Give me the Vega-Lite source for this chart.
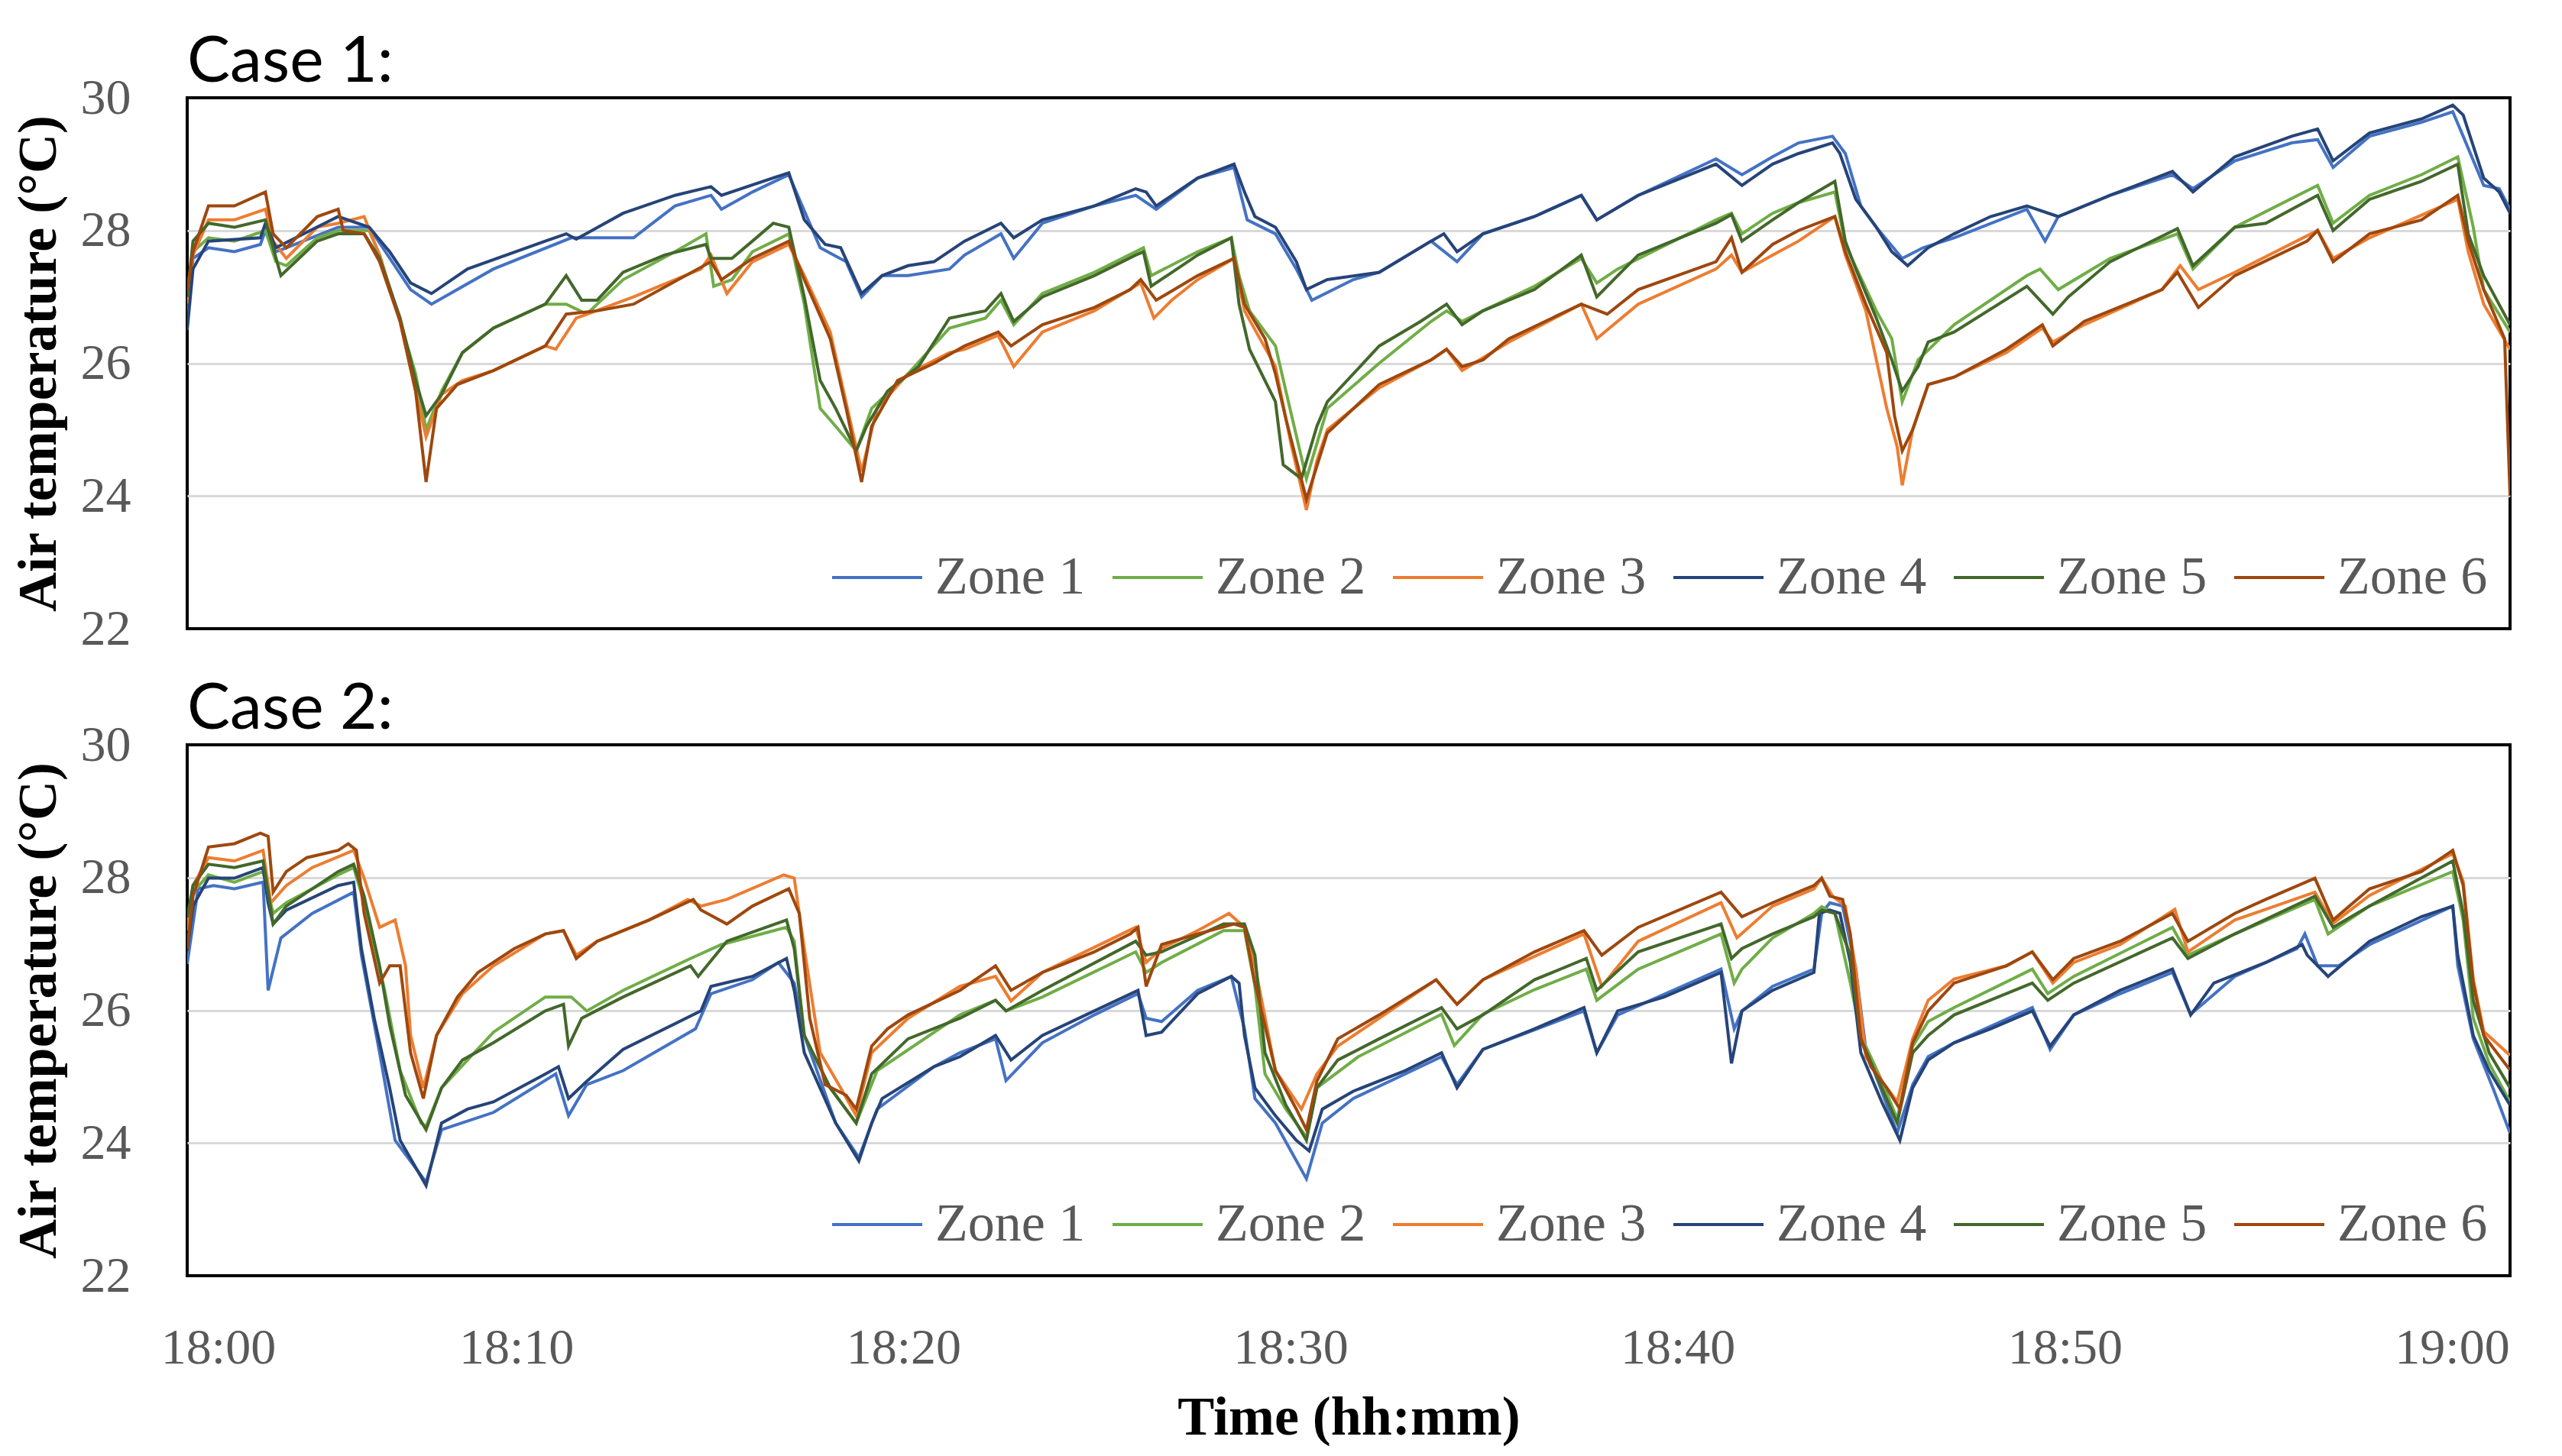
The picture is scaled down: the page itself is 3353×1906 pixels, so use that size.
{
"$schema": "https://vega.github.io/schema/vega-lite/v6.json",
"background": "white",
"padding": {"left": 12, "top": 38, "right": 10, "bottom": 4},
"config": {"view": {"stroke": "black", "strokeWidth": 4}, "font": "Liberation Serif"},
"datasets": {"d": [
{"c":1,"z":"Zone 1","t":1.5,"v":26.6},{"c":1,"z":"Zone 1","t":1.65,"v":27.58},{"c":1,"z":"Zone 1","t":2.05,"v":27.74},{"c":1,"z":"Zone 1","t":2.72,"v":27.68},{"c":1,"z":"Zone 1","t":3.39,"v":27.79},{"c":1,"z":"Zone 1","t":3.52,"v":28.0},{"c":1,"z":"Zone 1","t":3.79,"v":27.68},{"c":1,"z":"Zone 1","t":4.06,"v":27.74},{"c":1,"z":"Zone 1","t":5.4,"v":28.05},{"c":1,"z":"Zone 1","t":6.2,"v":28.05},{"c":1,"z":"Zone 1","t":7.27,"v":27.11},{"c":1,"z":"Zone 1","t":7.81,"v":26.89},{"c":1,"z":"Zone 1","t":9.41,"v":27.42},{"c":1,"z":"Zone 1","t":11.42,"v":27.89},{"c":1,"z":"Zone 1","t":13.03,"v":27.89},{"c":1,"z":"Zone 1","t":14.1,"v":28.37},{"c":1,"z":"Zone 1","t":15.03,"v":28.53},{"c":1,"z":"Zone 1","t":15.3,"v":28.32},{"c":1,"z":"Zone 1","t":16.1,"v":28.58},{"c":1,"z":"Zone 1","t":17.04,"v":28.84},{"c":1,"z":"Zone 1","t":17.85,"v":27.74},{"c":1,"z":"Zone 1","t":18.52,"v":27.53},{"c":1,"z":"Zone 1","t":18.92,"v":27.0},{"c":1,"z":"Zone 1","t":19.45,"v":27.32},{"c":1,"z":"Zone 1","t":20.12,"v":27.32},{"c":1,"z":"Zone 1","t":21.19,"v":27.42},{"c":1,"z":"Zone 1","t":21.58,"v":27.63},{"c":1,"z":"Zone 1","t":22.52,"v":27.95},{"c":1,"z":"Zone 1","t":22.85,"v":27.58},{"c":1,"z":"Zone 1","t":23.59,"v":28.11},{"c":1,"z":"Zone 1","t":24.93,"v":28.37},{"c":1,"z":"Zone 1","t":26.0,"v":28.53},{"c":1,"z":"Zone 1","t":26.53,"v":28.32},{"c":1,"z":"Zone 1","t":27.6,"v":28.79},{"c":1,"z":"Zone 1","t":28.54,"v":28.95},{"c":1,"z":"Zone 1","t":28.88,"v":28.16},{"c":1,"z":"Zone 1","t":29.61,"v":27.95},{"c":1,"z":"Zone 1","t":30.15,"v":27.42},{"c":1,"z":"Zone 1","t":30.55,"v":26.95},{"c":1,"z":"Zone 1","t":31.62,"v":27.26},{"c":1,"z":"Zone 1","t":32.29,"v":27.37},{"c":1,"z":"Zone 1","t":33.63,"v":27.84},{"c":1,"z":"Zone 1","t":34.3,"v":27.53},{"c":1,"z":"Zone 1","t":34.97,"v":27.95},{"c":1,"z":"Zone 1","t":36.3,"v":28.21},{"c":1,"z":"Zone 1","t":37.51,"v":28.53},{"c":1,"z":"Zone 1","t":37.91,"v":28.16},{"c":1,"z":"Zone 1","t":38.98,"v":28.53},{"c":1,"z":"Zone 1","t":40.99,"v":29.08},{"c":1,"z":"Zone 1","t":41.66,"v":28.84},{"c":1,"z":"Zone 1","t":42.45,"v":29.11},{"c":1,"z":"Zone 1","t":43.12,"v":29.32},{"c":1,"z":"Zone 1","t":44.0,"v":29.42},{"c":1,"z":"Zone 1","t":44.33,"v":29.16},{"c":1,"z":"Zone 1","t":44.73,"v":28.37},{"c":1,"z":"Zone 1","t":45.13,"v":28.05},{"c":1,"z":"Zone 1","t":45.8,"v":27.58},{"c":1,"z":"Zone 1","t":46.34,"v":27.74},{"c":1,"z":"Zone 1","t":47.14,"v":27.89},{"c":1,"z":"Zone 1","t":49.02,"v":28.32},{"c":1,"z":"Zone 1","t":49.49,"v":27.84},{"c":1,"z":"Zone 1","t":49.83,"v":28.21},{"c":1,"z":"Zone 1","t":51.17,"v":28.53},{"c":1,"z":"Zone 1","t":52.78,"v":28.84},{"c":1,"z":"Zone 1","t":53.31,"v":28.63},{"c":1,"z":"Zone 1","t":54.39,"v":29.05},{"c":1,"z":"Zone 1","t":55.86,"v":29.32},{"c":1,"z":"Zone 1","t":56.53,"v":29.37},{"c":1,"z":"Zone 1","t":56.93,"v":28.95},{"c":1,"z":"Zone 1","t":57.87,"v":29.42},{"c":1,"z":"Zone 1","t":59.21,"v":29.63},{"c":1,"z":"Zone 1","t":60.02,"v":29.79},{"c":1,"z":"Zone 1","t":60.29,"v":29.42},{"c":1,"z":"Zone 1","t":60.82,"v":28.68},{"c":1,"z":"Zone 1","t":61.22,"v":28.63},{"c":1,"z":"Zone 1","t":61.5,"v":28.32},
{"c":1,"z":"Zone 2","t":1.5,"v":26.9},{"c":1,"z":"Zone 2","t":1.65,"v":27.68},{"c":1,"z":"Zone 2","t":2.05,"v":27.89},{"c":1,"z":"Zone 2","t":2.72,"v":27.84},{"c":1,"z":"Zone 2","t":3.52,"v":28.0},{"c":1,"z":"Zone 2","t":3.79,"v":27.53},{"c":1,"z":"Zone 2","t":4.06,"v":27.47},{"c":1,"z":"Zone 2","t":4.86,"v":27.89},{"c":1,"z":"Zone 2","t":5.4,"v":28.0},{"c":1,"z":"Zone 2","t":6.2,"v":28.0},{"c":1,"z":"Zone 2","t":6.47,"v":27.63},{"c":1,"z":"Zone 2","t":7.0,"v":26.63},{"c":1,"z":"Zone 2","t":7.4,"v":25.84},{"c":1,"z":"Zone 2","t":7.67,"v":25.0},{"c":1,"z":"Zone 2","t":8.07,"v":25.58},{"c":1,"z":"Zone 2","t":8.61,"v":26.16},{"c":1,"z":"Zone 2","t":9.41,"v":26.53},{"c":1,"z":"Zone 2","t":10.75,"v":26.89},{"c":1,"z":"Zone 2","t":11.29,"v":26.89},{"c":1,"z":"Zone 2","t":11.82,"v":26.74},{"c":1,"z":"Zone 2","t":12.76,"v":27.26},{"c":1,"z":"Zone 2","t":14.1,"v":27.68},{"c":1,"z":"Zone 2","t":14.9,"v":27.95},{"c":1,"z":"Zone 2","t":15.1,"v":27.16},{"c":1,"z":"Zone 2","t":15.57,"v":27.26},{"c":1,"z":"Zone 2","t":16.1,"v":27.68},{"c":1,"z":"Zone 2","t":17.04,"v":27.95},{"c":1,"z":"Zone 2","t":17.44,"v":26.89},{"c":1,"z":"Zone 2","t":17.85,"v":25.32},{"c":1,"z":"Zone 2","t":18.25,"v":25.05},{"c":1,"z":"Zone 2","t":18.78,"v":24.68},{"c":1,"z":"Zone 2","t":19.18,"v":25.32},{"c":1,"z":"Zone 2","t":20.12,"v":25.84},{"c":1,"z":"Zone 2","t":21.19,"v":26.53},{"c":1,"z":"Zone 2","t":22.12,"v":26.68},{"c":1,"z":"Zone 2","t":22.52,"v":26.95},{"c":1,"z":"Zone 2","t":22.85,"v":26.58},{"c":1,"z":"Zone 2","t":23.59,"v":27.05},{"c":1,"z":"Zone 2","t":24.93,"v":27.37},{"c":1,"z":"Zone 2","t":26.2,"v":27.74},{"c":1,"z":"Zone 2","t":26.4,"v":27.32},{"c":1,"z":"Zone 2","t":27.6,"v":27.68},{"c":1,"z":"Zone 2","t":28.47,"v":27.89},{"c":1,"z":"Zone 2","t":28.67,"v":27.32},{"c":1,"z":"Zone 2","t":28.94,"v":26.79},{"c":1,"z":"Zone 2","t":29.61,"v":26.26},{"c":1,"z":"Zone 2","t":29.88,"v":25.58},{"c":1,"z":"Zone 2","t":30.41,"v":24.26},{"c":1,"z":"Zone 2","t":30.95,"v":25.32},{"c":1,"z":"Zone 2","t":32.29,"v":26.0},{"c":1,"z":"Zone 2","t":33.63,"v":26.63},{"c":1,"z":"Zone 2","t":34.03,"v":26.79},{"c":1,"z":"Zone 2","t":34.43,"v":26.63},{"c":1,"z":"Zone 2","t":34.97,"v":26.79},{"c":1,"z":"Zone 2","t":36.3,"v":27.16},{"c":1,"z":"Zone 2","t":37.51,"v":27.58},{"c":1,"z":"Zone 2","t":37.91,"v":27.21},{"c":1,"z":"Zone 2","t":38.45,"v":27.42},{"c":1,"z":"Zone 2","t":40.99,"v":28.16},{"c":1,"z":"Zone 2","t":41.39,"v":28.26},{"c":1,"z":"Zone 2","t":41.66,"v":27.95},{"c":1,"z":"Zone 2","t":42.45,"v":28.26},{"c":1,"z":"Zone 2","t":43.12,"v":28.42},{"c":1,"z":"Zone 2","t":44.06,"v":28.58},{"c":1,"z":"Zone 2","t":44.33,"v":27.79},{"c":1,"z":"Zone 2","t":45.13,"v":26.79},{"c":1,"z":"Zone 2","t":45.53,"v":26.37},{"c":1,"z":"Zone 2","t":45.8,"v":25.42},{"c":1,"z":"Zone 2","t":46.21,"v":26.05},{"c":1,"z":"Zone 2","t":47.14,"v":26.58},{"c":1,"z":"Zone 2","t":49.02,"v":27.32},{"c":1,"z":"Zone 2","t":49.36,"v":27.42},{"c":1,"z":"Zone 2","t":49.83,"v":27.11},{"c":1,"z":"Zone 2","t":51.17,"v":27.58},{"c":1,"z":"Zone 2","t":52.91,"v":27.95},{"c":1,"z":"Zone 2","t":53.31,"v":27.42},{"c":1,"z":"Zone 2","t":54.39,"v":28.05},{"c":1,"z":"Zone 2","t":56.53,"v":28.68},{"c":1,"z":"Zone 2","t":56.93,"v":28.11},{"c":1,"z":"Zone 2","t":57.87,"v":28.53},{"c":1,"z":"Zone 2","t":59.21,"v":28.84},{"c":1,"z":"Zone 2","t":60.15,"v":29.11},{"c":1,"z":"Zone 2","t":60.55,"v":28.05},{"c":1,"z":"Zone 2","t":60.82,"v":27.11},{"c":1,"z":"Zone 2","t":61.5,"v":26.47},
{"c":1,"z":"Zone 3","t":1.5,"v":26.9},{"c":1,"z":"Zone 3","t":1.65,"v":27.63},{"c":1,"z":"Zone 3","t":2.05,"v":28.16},{"c":1,"z":"Zone 3","t":2.72,"v":28.16},{"c":1,"z":"Zone 3","t":3.52,"v":28.32},{"c":1,"z":"Zone 3","t":3.72,"v":27.84},{"c":1,"z":"Zone 3","t":4.06,"v":27.58},{"c":1,"z":"Zone 3","t":4.86,"v":28.05},{"c":1,"z":"Zone 3","t":5.4,"v":28.11},{"c":1,"z":"Zone 3","t":6.07,"v":28.21},{"c":1,"z":"Zone 3","t":6.47,"v":27.63},{"c":1,"z":"Zone 3","t":7.0,"v":26.63},{"c":1,"z":"Zone 3","t":7.4,"v":25.58},{"c":1,"z":"Zone 3","t":7.67,"v":24.89},{"c":1,"z":"Zone 3","t":8.07,"v":25.53},{"c":1,"z":"Zone 3","t":8.61,"v":25.74},{"c":1,"z":"Zone 3","t":9.41,"v":25.89},{"c":1,"z":"Zone 3","t":10.75,"v":26.26},{"c":1,"z":"Zone 3","t":11.02,"v":26.21},{"c":1,"z":"Zone 3","t":11.55,"v":26.68},{"c":1,"z":"Zone 3","t":13.03,"v":27.0},{"c":1,"z":"Zone 3","t":14.77,"v":27.42},{"c":1,"z":"Zone 3","t":15.03,"v":27.63},{"c":1,"z":"Zone 3","t":15.44,"v":27.05},{"c":1,"z":"Zone 3","t":16.1,"v":27.53},{"c":1,"z":"Zone 3","t":17.04,"v":27.79},{"c":1,"z":"Zone 3","t":17.44,"v":27.32},{"c":1,"z":"Zone 3","t":18.11,"v":26.47},{"c":1,"z":"Zone 3","t":18.92,"v":24.37},{"c":1,"z":"Zone 3","t":19.32,"v":25.32},{"c":1,"z":"Zone 3","t":20.12,"v":25.84},{"c":1,"z":"Zone 3","t":21.19,"v":26.16},{"c":1,"z":"Zone 3","t":21.58,"v":26.21},{"c":1,"z":"Zone 3","t":22.45,"v":26.42},{"c":1,"z":"Zone 3","t":22.85,"v":25.95},{"c":1,"z":"Zone 3","t":23.59,"v":26.47},{"c":1,"z":"Zone 3","t":24.93,"v":26.79},{"c":1,"z":"Zone 3","t":26.13,"v":27.21},{"c":1,"z":"Zone 3","t":26.47,"v":26.68},{"c":1,"z":"Zone 3","t":26.93,"v":26.95},{"c":1,"z":"Zone 3","t":27.6,"v":27.26},{"c":1,"z":"Zone 3","t":28.54,"v":27.58},{"c":1,"z":"Zone 3","t":28.81,"v":26.79},{"c":1,"z":"Zone 3","t":29.61,"v":25.95},{"c":1,"z":"Zone 3","t":30.01,"v":24.79},{"c":1,"z":"Zone 3","t":30.41,"v":23.79},{"c":1,"z":"Zone 3","t":30.68,"v":24.53},{"c":1,"z":"Zone 3","t":30.95,"v":25.0},{"c":1,"z":"Zone 3","t":32.29,"v":25.63},{"c":1,"z":"Zone 3","t":33.63,"v":26.05},{"c":1,"z":"Zone 3","t":34.03,"v":26.21},{"c":1,"z":"Zone 3","t":34.43,"v":25.89},{"c":1,"z":"Zone 3","t":35.64,"v":26.32},{"c":1,"z":"Zone 3","t":37.51,"v":26.89},{"c":1,"z":"Zone 3","t":37.91,"v":26.37},{"c":1,"z":"Zone 3","t":38.98,"v":26.89},{"c":1,"z":"Zone 3","t":40.99,"v":27.42},{"c":1,"z":"Zone 3","t":41.39,"v":27.63},{"c":1,"z":"Zone 3","t":41.66,"v":27.37},{"c":1,"z":"Zone 3","t":42.45,"v":27.63},{"c":1,"z":"Zone 3","t":43.12,"v":27.84},{"c":1,"z":"Zone 3","t":44.06,"v":28.21},{"c":1,"z":"Zone 3","t":44.33,"v":27.63},{"c":1,"z":"Zone 3","t":44.86,"v":26.79},{"c":1,"z":"Zone 3","t":45.4,"v":25.32},{"c":1,"z":"Zone 3","t":45.67,"v":24.74},{"c":1,"z":"Zone 3","t":45.8,"v":24.16},{"c":1,"z":"Zone 3","t":46.07,"v":25.0},{"c":1,"z":"Zone 3","t":46.47,"v":25.68},{"c":1,"z":"Zone 3","t":47.14,"v":25.79},{"c":1,"z":"Zone 3","t":48.49,"v":26.16},{"c":1,"z":"Zone 3","t":49.42,"v":26.53},{"c":1,"z":"Zone 3","t":49.69,"v":26.32},{"c":1,"z":"Zone 3","t":50.5,"v":26.58},{"c":1,"z":"Zone 3","t":52.51,"v":27.11},{"c":1,"z":"Zone 3","t":52.98,"v":27.47},{"c":1,"z":"Zone 3","t":53.45,"v":27.11},{"c":1,"z":"Zone 3","t":54.39,"v":27.37},{"c":1,"z":"Zone 3","t":56.53,"v":28.0},{"c":1,"z":"Zone 3","t":56.93,"v":27.58},{"c":1,"z":"Zone 3","t":57.87,"v":27.89},{"c":1,"z":"Zone 3","t":60.15,"v":28.47},{"c":1,"z":"Zone 3","t":60.42,"v":27.68},{"c":1,"z":"Zone 3","t":60.82,"v":26.89},{"c":1,"z":"Zone 3","t":61.5,"v":26.21},
{"c":1,"z":"Zone 4","t":1.5,"v":26.5},{"c":1,"z":"Zone 4","t":1.65,"v":27.42},{"c":1,"z":"Zone 4","t":2.05,"v":27.84},{"c":1,"z":"Zone 4","t":3.39,"v":27.89},{"c":1,"z":"Zone 4","t":3.52,"v":28.11},{"c":1,"z":"Zone 4","t":3.79,"v":27.74},{"c":1,"z":"Zone 4","t":5.4,"v":28.21},{"c":1,"z":"Zone 4","t":6.2,"v":28.05},{"c":1,"z":"Zone 4","t":6.73,"v":27.68},{"c":1,"z":"Zone 4","t":7.27,"v":27.21},{"c":1,"z":"Zone 4","t":7.81,"v":27.05},{"c":1,"z":"Zone 4","t":8.74,"v":27.42},{"c":1,"z":"Zone 4","t":10.75,"v":27.84},{"c":1,"z":"Zone 4","t":11.29,"v":27.95},{"c":1,"z":"Zone 4","t":11.55,"v":27.87},{"c":1,"z":"Zone 4","t":12.76,"v":28.26},{"c":1,"z":"Zone 4","t":14.1,"v":28.53},{"c":1,"z":"Zone 4","t":15.03,"v":28.66},{"c":1,"z":"Zone 4","t":15.3,"v":28.53},{"c":1,"z":"Zone 4","t":17.04,"v":28.87},{"c":1,"z":"Zone 4","t":17.44,"v":28.16},{"c":1,"z":"Zone 4","t":17.98,"v":27.79},{"c":1,"z":"Zone 4","t":18.38,"v":27.74},{"c":1,"z":"Zone 4","t":18.92,"v":27.05},{"c":1,"z":"Zone 4","t":19.45,"v":27.32},{"c":1,"z":"Zone 4","t":20.12,"v":27.47},{"c":1,"z":"Zone 4","t":20.79,"v":27.53},{"c":1,"z":"Zone 4","t":21.58,"v":27.84},{"c":1,"z":"Zone 4","t":22.52,"v":28.11},{"c":1,"z":"Zone 4","t":22.85,"v":27.89},{"c":1,"z":"Zone 4","t":23.59,"v":28.16},{"c":1,"z":"Zone 4","t":24.93,"v":28.37},{"c":1,"z":"Zone 4","t":26.0,"v":28.63},{"c":1,"z":"Zone 4","t":26.27,"v":28.58},{"c":1,"z":"Zone 4","t":26.53,"v":28.37},{"c":1,"z":"Zone 4","t":27.6,"v":28.79},{"c":1,"z":"Zone 4","t":28.54,"v":29.0},{"c":1,"z":"Zone 4","t":28.81,"v":28.58},{"c":1,"z":"Zone 4","t":29.08,"v":28.21},{"c":1,"z":"Zone 4","t":29.61,"v":28.05},{"c":1,"z":"Zone 4","t":30.15,"v":27.53},{"c":1,"z":"Zone 4","t":30.41,"v":27.11},{"c":1,"z":"Zone 4","t":30.95,"v":27.26},{"c":1,"z":"Zone 4","t":32.29,"v":27.37},{"c":1,"z":"Zone 4","t":33.63,"v":27.84},{"c":1,"z":"Zone 4","t":33.96,"v":27.95},{"c":1,"z":"Zone 4","t":34.3,"v":27.68},{"c":1,"z":"Zone 4","t":34.97,"v":27.95},{"c":1,"z":"Zone 4","t":36.3,"v":28.21},{"c":1,"z":"Zone 4","t":37.51,"v":28.53},{"c":1,"z":"Zone 4","t":37.91,"v":28.16},{"c":1,"z":"Zone 4","t":38.98,"v":28.53},{"c":1,"z":"Zone 4","t":40.99,"v":29.0},{"c":1,"z":"Zone 4","t":41.66,"v":28.68},{"c":1,"z":"Zone 4","t":42.45,"v":29.0},{"c":1,"z":"Zone 4","t":43.12,"v":29.16},{"c":1,"z":"Zone 4","t":44.0,"v":29.32},{"c":1,"z":"Zone 4","t":44.19,"v":29.16},{"c":1,"z":"Zone 4","t":44.6,"v":28.47},{"c":1,"z":"Zone 4","t":45.13,"v":28.05},{"c":1,"z":"Zone 4","t":45.53,"v":27.68},{"c":1,"z":"Zone 4","t":45.94,"v":27.47},{"c":1,"z":"Zone 4","t":46.47,"v":27.74},{"c":1,"z":"Zone 4","t":47.14,"v":27.95},{"c":1,"z":"Zone 4","t":48.08,"v":28.21},{"c":1,"z":"Zone 4","t":49.02,"v":28.37},{"c":1,"z":"Zone 4","t":49.83,"v":28.21},{"c":1,"z":"Zone 4","t":51.17,"v":28.53},{"c":1,"z":"Zone 4","t":52.78,"v":28.89},{"c":1,"z":"Zone 4","t":53.31,"v":28.58},{"c":1,"z":"Zone 4","t":54.39,"v":29.11},{"c":1,"z":"Zone 4","t":55.86,"v":29.42},{"c":1,"z":"Zone 4","t":56.53,"v":29.53},{"c":1,"z":"Zone 4","t":56.93,"v":29.05},{"c":1,"z":"Zone 4","t":57.87,"v":29.47},{"c":1,"z":"Zone 4","t":59.21,"v":29.68},{"c":1,"z":"Zone 4","t":60.02,"v":29.89},{"c":1,"z":"Zone 4","t":60.29,"v":29.74},{"c":1,"z":"Zone 4","t":60.82,"v":28.79},{"c":1,"z":"Zone 4","t":61.22,"v":28.58},{"c":1,"z":"Zone 4","t":61.5,"v":28.26},
{"c":1,"z":"Zone 5","t":1.5,"v":27.0},{"c":1,"z":"Zone 5","t":1.65,"v":27.84},{"c":1,"z":"Zone 5","t":2.05,"v":28.11},{"c":1,"z":"Zone 5","t":2.72,"v":28.05},{"c":1,"z":"Zone 5","t":3.52,"v":28.16},{"c":1,"z":"Zone 5","t":3.92,"v":27.32},{"c":1,"z":"Zone 5","t":4.86,"v":27.84},{"c":1,"z":"Zone 5","t":5.4,"v":27.95},{"c":1,"z":"Zone 5","t":6.07,"v":27.95},{"c":1,"z":"Zone 5","t":6.47,"v":27.58},{"c":1,"z":"Zone 5","t":7.0,"v":26.68},{"c":1,"z":"Zone 5","t":7.4,"v":25.74},{"c":1,"z":"Zone 5","t":7.67,"v":25.21},{"c":1,"z":"Zone 5","t":8.07,"v":25.53},{"c":1,"z":"Zone 5","t":8.61,"v":26.16},{"c":1,"z":"Zone 5","t":9.41,"v":26.53},{"c":1,"z":"Zone 5","t":10.75,"v":26.89},{"c":1,"z":"Zone 5","t":11.29,"v":27.32},{"c":1,"z":"Zone 5","t":11.69,"v":26.95},{"c":1,"z":"Zone 5","t":12.09,"v":26.95},{"c":1,"z":"Zone 5","t":12.76,"v":27.37},{"c":1,"z":"Zone 5","t":13.83,"v":27.63},{"c":1,"z":"Zone 5","t":14.9,"v":27.79},{"c":1,"z":"Zone 5","t":15.03,"v":27.58},{"c":1,"z":"Zone 5","t":15.57,"v":27.58},{"c":1,"z":"Zone 5","t":16.1,"v":27.84},{"c":1,"z":"Zone 5","t":16.64,"v":28.11},{"c":1,"z":"Zone 5","t":17.04,"v":28.05},{"c":1,"z":"Zone 5","t":17.44,"v":27.0},{"c":1,"z":"Zone 5","t":17.85,"v":25.74},{"c":1,"z":"Zone 5","t":18.25,"v":25.32},{"c":1,"z":"Zone 5","t":18.78,"v":24.68},{"c":1,"z":"Zone 5","t":19.05,"v":25.05},{"c":1,"z":"Zone 5","t":19.59,"v":25.58},{"c":1,"z":"Zone 5","t":20.39,"v":25.95},{"c":1,"z":"Zone 5","t":21.19,"v":26.68},{"c":1,"z":"Zone 5","t":22.12,"v":26.79},{"c":1,"z":"Zone 5","t":22.52,"v":27.05},{"c":1,"z":"Zone 5","t":22.85,"v":26.63},{"c":1,"z":"Zone 5","t":23.59,"v":27.0},{"c":1,"z":"Zone 5","t":24.93,"v":27.32},{"c":1,"z":"Zone 5","t":26.0,"v":27.63},{"c":1,"z":"Zone 5","t":26.2,"v":27.68},{"c":1,"z":"Zone 5","t":26.4,"v":27.16},{"c":1,"z":"Zone 5","t":27.6,"v":27.63},{"c":1,"z":"Zone 5","t":28.47,"v":27.89},{"c":1,"z":"Zone 5","t":28.67,"v":26.89},{"c":1,"z":"Zone 5","t":28.94,"v":26.21},{"c":1,"z":"Zone 5","t":29.61,"v":25.42},{"c":1,"z":"Zone 5","t":29.81,"v":24.47},{"c":1,"z":"Zone 5","t":30.28,"v":24.26},{"c":1,"z":"Zone 5","t":30.68,"v":25.05},{"c":1,"z":"Zone 5","t":30.95,"v":25.42},{"c":1,"z":"Zone 5","t":32.29,"v":26.26},{"c":1,"z":"Zone 5","t":33.36,"v":26.63},{"c":1,"z":"Zone 5","t":34.03,"v":26.89},{"c":1,"z":"Zone 5","t":34.43,"v":26.58},{"c":1,"z":"Zone 5","t":34.97,"v":26.79},{"c":1,"z":"Zone 5","t":36.3,"v":27.11},{"c":1,"z":"Zone 5","t":37.51,"v":27.63},{"c":1,"z":"Zone 5","t":37.91,"v":27.0},{"c":1,"z":"Zone 5","t":38.45,"v":27.32},{"c":1,"z":"Zone 5","t":38.98,"v":27.63},{"c":1,"z":"Zone 5","t":40.99,"v":28.11},{"c":1,"z":"Zone 5","t":41.39,"v":28.24},{"c":1,"z":"Zone 5","t":41.66,"v":27.84},{"c":1,"z":"Zone 5","t":42.45,"v":28.16},{"c":1,"z":"Zone 5","t":43.12,"v":28.42},{"c":1,"z":"Zone 5","t":44.06,"v":28.74},{"c":1,"z":"Zone 5","t":44.33,"v":27.84},{"c":1,"z":"Zone 5","t":44.6,"v":27.42},{"c":1,"z":"Zone 5","t":45.13,"v":26.68},{"c":1,"z":"Zone 5","t":45.53,"v":26.05},{"c":1,"z":"Zone 5","t":45.8,"v":25.58},{"c":1,"z":"Zone 5","t":46.21,"v":25.95},{"c":1,"z":"Zone 5","t":46.47,"v":26.32},{"c":1,"z":"Zone 5","t":47.14,"v":26.47},{"c":1,"z":"Zone 5","t":49.02,"v":27.16},{"c":1,"z":"Zone 5","t":49.69,"v":26.74},{"c":1,"z":"Zone 5","t":50.09,"v":27.0},{"c":1,"z":"Zone 5","t":51.17,"v":27.53},{"c":1,"z":"Zone 5","t":52.91,"v":28.03},{"c":1,"z":"Zone 5","t":53.31,"v":27.47},{"c":1,"z":"Zone 5","t":54.39,"v":28.05},{"c":1,"z":"Zone 5","t":55.19,"v":28.11},{"c":1,"z":"Zone 5","t":56.53,"v":28.53},{"c":1,"z":"Zone 5","t":56.93,"v":28.0},{"c":1,"z":"Zone 5","t":57.87,"v":28.47},{"c":1,"z":"Zone 5","t":59.21,"v":28.74},{"c":1,"z":"Zone 5","t":60.15,"v":29.0},{"c":1,"z":"Zone 5","t":60.42,"v":27.95},{"c":1,"z":"Zone 5","t":60.82,"v":27.32},{"c":1,"z":"Zone 5","t":61.5,"v":26.58},
{"c":1,"z":"Zone 6","t":1.5,"v":27.1},{"c":1,"z":"Zone 6","t":1.65,"v":27.68},{"c":1,"z":"Zone 6","t":2.05,"v":28.37},{"c":1,"z":"Zone 6","t":2.72,"v":28.37},{"c":1,"z":"Zone 6","t":3.52,"v":28.58},{"c":1,"z":"Zone 6","t":3.72,"v":27.95},{"c":1,"z":"Zone 6","t":4.06,"v":27.74},{"c":1,"z":"Zone 6","t":4.86,"v":28.21},{"c":1,"z":"Zone 6","t":5.4,"v":28.32},{"c":1,"z":"Zone 6","t":5.53,"v":28.0},{"c":1,"z":"Zone 6","t":6.07,"v":27.95},{"c":1,"z":"Zone 6","t":6.47,"v":27.53},{"c":1,"z":"Zone 6","t":7.0,"v":26.63},{"c":1,"z":"Zone 6","t":7.4,"v":25.58},{"c":1,"z":"Zone 6","t":7.67,"v":24.21},{"c":1,"z":"Zone 6","t":7.94,"v":25.32},{"c":1,"z":"Zone 6","t":8.48,"v":25.68},{"c":1,"z":"Zone 6","t":9.41,"v":25.89},{"c":1,"z":"Zone 6","t":10.75,"v":26.26},{"c":1,"z":"Zone 6","t":11.29,"v":26.74},{"c":1,"z":"Zone 6","t":12.09,"v":26.79},{"c":1,"z":"Zone 6","t":13.03,"v":26.89},{"c":1,"z":"Zone 6","t":15.03,"v":27.53},{"c":1,"z":"Zone 6","t":15.3,"v":27.26},{"c":1,"z":"Zone 6","t":16.1,"v":27.58},{"c":1,"z":"Zone 6","t":17.04,"v":27.84},{"c":1,"z":"Zone 6","t":17.44,"v":27.26},{"c":1,"z":"Zone 6","t":18.11,"v":26.37},{"c":1,"z":"Zone 6","t":18.52,"v":25.32},{"c":1,"z":"Zone 6","t":18.92,"v":24.21},{"c":1,"z":"Zone 6","t":19.18,"v":25.05},{"c":1,"z":"Zone 6","t":19.85,"v":25.74},{"c":1,"z":"Zone 6","t":20.79,"v":26.0},{"c":1,"z":"Zone 6","t":21.58,"v":26.26},{"c":1,"z":"Zone 6","t":22.45,"v":26.47},{"c":1,"z":"Zone 6","t":22.78,"v":26.26},{"c":1,"z":"Zone 6","t":23.59,"v":26.58},{"c":1,"z":"Zone 6","t":24.93,"v":26.84},{"c":1,"z":"Zone 6","t":25.86,"v":27.11},{"c":1,"z":"Zone 6","t":26.13,"v":27.26},{"c":1,"z":"Zone 6","t":26.53,"v":26.95},{"c":1,"z":"Zone 6","t":27.6,"v":27.32},{"c":1,"z":"Zone 6","t":28.54,"v":27.58},{"c":1,"z":"Zone 6","t":28.81,"v":26.89},{"c":1,"z":"Zone 6","t":29.34,"v":26.37},{"c":1,"z":"Zone 6","t":29.61,"v":25.84},{"c":1,"z":"Zone 6","t":29.88,"v":25.16},{"c":1,"z":"Zone 6","t":30.41,"v":23.95},{"c":1,"z":"Zone 6","t":30.95,"v":24.95},{"c":1,"z":"Zone 6","t":32.29,"v":25.68},{"c":1,"z":"Zone 6","t":33.63,"v":26.05},{"c":1,"z":"Zone 6","t":34.03,"v":26.21},{"c":1,"z":"Zone 6","t":34.43,"v":25.95},{"c":1,"z":"Zone 6","t":34.97,"v":26.05},{"c":1,"z":"Zone 6","t":35.64,"v":26.37},{"c":1,"z":"Zone 6","t":37.51,"v":26.89},{"c":1,"z":"Zone 6","t":38.18,"v":26.74},{"c":1,"z":"Zone 6","t":38.98,"v":27.11},{"c":1,"z":"Zone 6","t":40.99,"v":27.53},{"c":1,"z":"Zone 6","t":41.39,"v":27.89},{"c":1,"z":"Zone 6","t":41.66,"v":27.37},{"c":1,"z":"Zone 6","t":42.45,"v":27.79},{"c":1,"z":"Zone 6","t":43.12,"v":28.0},{"c":1,"z":"Zone 6","t":44.06,"v":28.21},{"c":1,"z":"Zone 6","t":44.33,"v":27.68},{"c":1,"z":"Zone 6","t":44.86,"v":26.89},{"c":1,"z":"Zone 6","t":45.4,"v":26.16},{"c":1,"z":"Zone 6","t":45.6,"v":25.21},{"c":1,"z":"Zone 6","t":45.8,"v":24.68},{"c":1,"z":"Zone 6","t":46.07,"v":25.0},{"c":1,"z":"Zone 6","t":46.47,"v":25.68},{"c":1,"z":"Zone 6","t":47.14,"v":25.79},{"c":1,"z":"Zone 6","t":48.49,"v":26.21},{"c":1,"z":"Zone 6","t":49.42,"v":26.58},{"c":1,"z":"Zone 6","t":49.69,"v":26.26},{"c":1,"z":"Zone 6","t":50.5,"v":26.63},{"c":1,"z":"Zone 6","t":52.51,"v":27.11},{"c":1,"z":"Zone 6","t":52.91,"v":27.37},{"c":1,"z":"Zone 6","t":53.45,"v":26.84},{"c":1,"z":"Zone 6","t":54.39,"v":27.32},{"c":1,"z":"Zone 6","t":56.26,"v":27.84},{"c":1,"z":"Zone 6","t":56.53,"v":28.0},{"c":1,"z":"Zone 6","t":56.93,"v":27.53},{"c":1,"z":"Zone 6","t":57.87,"v":27.95},{"c":1,"z":"Zone 6","t":59.21,"v":28.16},{"c":1,"z":"Zone 6","t":60.15,"v":28.53},{"c":1,"z":"Zone 6","t":60.42,"v":27.84},{"c":1,"z":"Zone 6","t":60.82,"v":27.11},{"c":1,"z":"Zone 6","t":61.36,"v":26.37},{"c":1,"z":"Zone 6","t":61.5,"v":24.0},
{"c":2,"z":"Zone 1","t":1.5,"v":26.7},{"c":2,"z":"Zone 1","t":1.78,"v":27.83},{"c":2,"z":"Zone 1","t":2.18,"v":27.88},{"c":2,"z":"Zone 1","t":2.72,"v":27.83},{"c":2,"z":"Zone 1","t":3.46,"v":27.93},{"c":2,"z":"Zone 1","t":3.59,"v":26.3},{"c":2,"z":"Zone 1","t":3.92,"v":27.09},{"c":2,"z":"Zone 1","t":4.73,"v":27.46},{"c":2,"z":"Zone 1","t":5.8,"v":27.78},{"c":2,"z":"Zone 1","t":6.0,"v":26.83},{"c":2,"z":"Zone 1","t":6.47,"v":25.36},{"c":2,"z":"Zone 1","t":6.87,"v":24.04},{"c":2,"z":"Zone 1","t":7.67,"v":23.41},{"c":2,"z":"Zone 1","t":8.07,"v":24.2},{"c":2,"z":"Zone 1","t":9.41,"v":24.46},{"c":2,"z":"Zone 1","t":11.02,"v":25.04},{"c":2,"z":"Zone 1","t":11.35,"v":24.41},{"c":2,"z":"Zone 1","t":11.82,"v":24.88},{"c":2,"z":"Zone 1","t":12.76,"v":25.09},{"c":2,"z":"Zone 1","t":14.63,"v":25.72},{"c":2,"z":"Zone 1","t":15.03,"v":26.25},{"c":2,"z":"Zone 1","t":16.1,"v":26.46},{"c":2,"z":"Zone 1","t":16.77,"v":26.72},{"c":2,"z":"Zone 1","t":17.18,"v":26.41},{"c":2,"z":"Zone 1","t":17.44,"v":25.62},{"c":2,"z":"Zone 1","t":18.25,"v":24.3},{"c":2,"z":"Zone 1","t":18.85,"v":23.78},{"c":2,"z":"Zone 1","t":19.32,"v":24.51},{"c":2,"z":"Zone 1","t":20.79,"v":25.15},{"c":2,"z":"Zone 1","t":21.46,"v":25.36},{"c":2,"z":"Zone 1","t":22.38,"v":25.57},{"c":2,"z":"Zone 1","t":22.65,"v":24.94},{"c":2,"z":"Zone 1","t":23.59,"v":25.51},{"c":2,"z":"Zone 1","t":24.93,"v":25.93},{"c":2,"z":"Zone 1","t":26.06,"v":26.25},{"c":2,"z":"Zone 1","t":26.27,"v":25.88},{"c":2,"z":"Zone 1","t":26.67,"v":25.83},{"c":2,"z":"Zone 1","t":27.6,"v":26.3},{"c":2,"z":"Zone 1","t":28.47,"v":26.51},{"c":2,"z":"Zone 1","t":28.81,"v":25.72},{"c":2,"z":"Zone 1","t":29.08,"v":24.67},{"c":2,"z":"Zone 1","t":29.61,"v":24.3},{"c":2,"z":"Zone 1","t":30.41,"v":23.46},{"c":2,"z":"Zone 1","t":30.82,"v":24.3},{"c":2,"z":"Zone 1","t":31.62,"v":24.67},{"c":2,"z":"Zone 1","t":33.9,"v":25.3},{"c":2,"z":"Zone 1","t":34.3,"v":24.88},{"c":2,"z":"Zone 1","t":34.97,"v":25.41},{"c":2,"z":"Zone 1","t":37.58,"v":25.99},{"c":2,"z":"Zone 1","t":37.91,"v":25.36},{"c":2,"z":"Zone 1","t":38.45,"v":25.93},{"c":2,"z":"Zone 1","t":41.12,"v":26.62},{"c":2,"z":"Zone 1","t":41.46,"v":25.72},{"c":2,"z":"Zone 1","t":41.66,"v":25.99},{"c":2,"z":"Zone 1","t":42.45,"v":26.36},{"c":2,"z":"Zone 1","t":43.52,"v":26.62},{"c":2,"z":"Zone 1","t":43.72,"v":27.46},{"c":2,"z":"Zone 1","t":43.93,"v":27.62},{"c":2,"z":"Zone 1","t":44.26,"v":27.57},{"c":2,"z":"Zone 1","t":44.6,"v":26.62},{"c":2,"z":"Zone 1","t":44.86,"v":25.41},{"c":2,"z":"Zone 1","t":45.27,"v":24.78},{"c":2,"z":"Zone 1","t":45.67,"v":24.15},{"c":2,"z":"Zone 1","t":46.07,"v":24.88},{"c":2,"z":"Zone 1","t":46.47,"v":25.3},{"c":2,"z":"Zone 1","t":47.14,"v":25.51},{"c":2,"z":"Zone 1","t":49.16,"v":26.04},{"c":2,"z":"Zone 1","t":49.62,"v":25.41},{"c":2,"z":"Zone 1","t":50.23,"v":25.93},{"c":2,"z":"Zone 1","t":51.43,"v":26.25},{"c":2,"z":"Zone 1","t":52.78,"v":26.57},{"c":2,"z":"Zone 1","t":53.25,"v":25.94},{"c":2,"z":"Zone 1","t":54.39,"v":26.51},{"c":2,"z":"Zone 1","t":56.0,"v":26.93},{"c":2,"z":"Zone 1","t":56.2,"v":27.15},{"c":2,"z":"Zone 1","t":56.53,"v":26.67},{"c":2,"z":"Zone 1","t":57.07,"v":26.67},{"c":2,"z":"Zone 1","t":57.87,"v":26.99},{"c":2,"z":"Zone 1","t":60.02,"v":27.57},{"c":2,"z":"Zone 1","t":60.15,"v":26.67},{"c":2,"z":"Zone 1","t":60.55,"v":25.57},{"c":2,"z":"Zone 1","t":61.09,"v":24.78},{"c":2,"z":"Zone 1","t":61.5,"v":24.15},
{"c":2,"z":"Zone 2","t":1.5,"v":27.3},{"c":2,"z":"Zone 2","t":1.65,"v":27.78},{"c":2,"z":"Zone 2","t":2.05,"v":28.04},{"c":2,"z":"Zone 2","t":2.72,"v":27.93},{"c":2,"z":"Zone 2","t":3.46,"v":28.09},{"c":2,"z":"Zone 2","t":3.72,"v":27.46},{"c":2,"z":"Zone 2","t":4.06,"v":27.62},{"c":2,"z":"Zone 2","t":5.4,"v":28.04},{"c":2,"z":"Zone 2","t":5.8,"v":28.15},{"c":2,"z":"Zone 2","t":6.07,"v":27.62},{"c":2,"z":"Zone 2","t":6.6,"v":26.3},{"c":2,"z":"Zone 2","t":7.0,"v":25.09},{"c":2,"z":"Zone 2","t":7.54,"v":24.3},{"c":2,"z":"Zone 2","t":7.67,"v":24.25},{"c":2,"z":"Zone 2","t":8.07,"v":24.83},{"c":2,"z":"Zone 2","t":9.41,"v":25.67},{"c":2,"z":"Zone 2","t":10.75,"v":26.2},{"c":2,"z":"Zone 2","t":11.42,"v":26.2},{"c":2,"z":"Zone 2","t":11.82,"v":25.99},{"c":2,"z":"Zone 2","t":12.76,"v":26.3},{"c":2,"z":"Zone 2","t":14.5,"v":26.78},{"c":2,"z":"Zone 2","t":15.3,"v":26.99},{"c":2,"z":"Zone 2","t":16.98,"v":27.25},{"c":2,"z":"Zone 2","t":17.18,"v":27.04},{"c":2,"z":"Zone 2","t":17.44,"v":25.62},{"c":2,"z":"Zone 2","t":18.11,"v":24.83},{"c":2,"z":"Zone 2","t":18.78,"v":24.3},{"c":2,"z":"Zone 2","t":19.32,"v":25.09},{"c":2,"z":"Zone 2","t":21.46,"v":25.93},{"c":2,"z":"Zone 2","t":22.38,"v":26.15},{"c":2,"z":"Zone 2","t":22.65,"v":25.99},{"c":2,"z":"Zone 2","t":23.59,"v":26.2},{"c":2,"z":"Zone 2","t":26.0,"v":26.88},{"c":2,"z":"Zone 2","t":26.27,"v":26.57},{"c":2,"z":"Zone 2","t":26.67,"v":26.72},{"c":2,"z":"Zone 2","t":28.27,"v":27.2},{"c":2,"z":"Zone 2","t":28.81,"v":27.2},{"c":2,"z":"Zone 2","t":29.08,"v":26.36},{"c":2,"z":"Zone 2","t":29.34,"v":25.04},{"c":2,"z":"Zone 2","t":29.88,"v":24.51},{"c":2,"z":"Zone 2","t":30.41,"v":24.09},{"c":2,"z":"Zone 2","t":30.68,"v":24.83},{"c":2,"z":"Zone 2","t":31.75,"v":25.3},{"c":2,"z":"Zone 2","t":33.9,"v":25.94},{"c":2,"z":"Zone 2","t":34.23,"v":25.47},{"c":2,"z":"Zone 2","t":34.97,"v":25.94},{"c":2,"z":"Zone 2","t":36.3,"v":26.31},{"c":2,"z":"Zone 2","t":37.64,"v":26.62},{"c":2,"z":"Zone 2","t":37.91,"v":26.15},{"c":2,"z":"Zone 2","t":38.98,"v":26.62},{"c":2,"z":"Zone 2","t":41.12,"v":27.15},{"c":2,"z":"Zone 2","t":41.46,"v":26.41},{"c":2,"z":"Zone 2","t":41.66,"v":26.62},{"c":2,"z":"Zone 2","t":42.45,"v":27.09},{"c":2,"z":"Zone 2","t":43.52,"v":27.46},{"c":2,"z":"Zone 2","t":43.72,"v":27.56},{"c":2,"z":"Zone 2","t":44.06,"v":27.46},{"c":2,"z":"Zone 2","t":44.46,"v":26.41},{"c":2,"z":"Zone 2","t":44.73,"v":25.62},{"c":2,"z":"Zone 2","t":45.27,"v":24.94},{"c":2,"z":"Zone 2","t":45.67,"v":24.36},{"c":2,"z":"Zone 2","t":46.07,"v":25.46},{"c":2,"z":"Zone 2","t":46.47,"v":25.83},{"c":2,"z":"Zone 2","t":47.14,"v":26.04},{"c":2,"z":"Zone 2","t":49.16,"v":26.62},{"c":2,"z":"Zone 2","t":49.56,"v":26.25},{"c":2,"z":"Zone 2","t":50.23,"v":26.51},{"c":2,"z":"Zone 2","t":52.78,"v":27.25},{"c":2,"z":"Zone 2","t":53.18,"v":26.83},{"c":2,"z":"Zone 2","t":54.39,"v":27.15},{"c":2,"z":"Zone 2","t":56.46,"v":27.67},{"c":2,"z":"Zone 2","t":56.8,"v":27.15},{"c":2,"z":"Zone 2","t":57.87,"v":27.57},{"c":2,"z":"Zone 2","t":60.02,"v":28.09},{"c":2,"z":"Zone 2","t":60.29,"v":27.36},{"c":2,"z":"Zone 2","t":60.55,"v":25.88},{"c":2,"z":"Zone 2","t":60.96,"v":25.2},{"c":2,"z":"Zone 2","t":61.5,"v":24.62},
{"c":2,"z":"Zone 3","t":1.5,"v":27.2},{"c":2,"z":"Zone 3","t":1.65,"v":27.88},{"c":2,"z":"Zone 3","t":2.05,"v":28.3},{"c":2,"z":"Zone 3","t":2.72,"v":28.25},{"c":2,"z":"Zone 3","t":3.46,"v":28.41},{"c":2,"z":"Zone 3","t":3.66,"v":27.62},{"c":2,"z":"Zone 3","t":4.06,"v":27.88},{"c":2,"z":"Zone 3","t":4.73,"v":28.15},{"c":2,"z":"Zone 3","t":5.8,"v":28.41},{"c":2,"z":"Zone 3","t":6.07,"v":27.99},{"c":2,"z":"Zone 3","t":6.47,"v":27.25},{"c":2,"z":"Zone 3","t":6.87,"v":27.36},{"c":2,"z":"Zone 3","t":7.14,"v":26.67},{"c":2,"z":"Zone 3","t":7.27,"v":25.62},{"c":2,"z":"Zone 3","t":7.6,"v":24.83},{"c":2,"z":"Zone 3","t":7.94,"v":25.62},{"c":2,"z":"Zone 3","t":8.61,"v":26.25},{"c":2,"z":"Zone 3","t":9.41,"v":26.67},{"c":2,"z":"Zone 3","t":10.75,"v":27.15},{"c":2,"z":"Zone 3","t":11.22,"v":27.2},{"c":2,"z":"Zone 3","t":11.55,"v":26.83},{"c":2,"z":"Zone 3","t":12.09,"v":27.04},{"c":2,"z":"Zone 3","t":13.43,"v":27.36},{"c":2,"z":"Zone 3","t":14.43,"v":27.67},{"c":2,"z":"Zone 3","t":14.77,"v":27.57},{"c":2,"z":"Zone 3","t":15.44,"v":27.67},{"c":2,"z":"Zone 3","t":16.91,"v":28.04},{"c":2,"z":"Zone 3","t":17.18,"v":27.99},{"c":2,"z":"Zone 3","t":17.44,"v":26.93},{"c":2,"z":"Zone 3","t":17.85,"v":25.36},{"c":2,"z":"Zone 3","t":18.38,"v":24.83},{"c":2,"z":"Zone 3","t":18.78,"v":24.41},{"c":2,"z":"Zone 3","t":19.18,"v":25.36},{"c":2,"z":"Zone 3","t":20.12,"v":25.88},{"c":2,"z":"Zone 3","t":21.46,"v":26.36},{"c":2,"z":"Zone 3","t":22.38,"v":26.51},{"c":2,"z":"Zone 3","t":22.78,"v":26.14},{"c":2,"z":"Zone 3","t":23.59,"v":26.57},{"c":2,"z":"Zone 3","t":26.0,"v":27.25},{"c":2,"z":"Zone 3","t":26.27,"v":26.72},{"c":2,"z":"Zone 3","t":26.67,"v":26.93},{"c":2,"z":"Zone 3","t":27.6,"v":27.2},{"c":2,"z":"Zone 3","t":28.41,"v":27.46},{"c":2,"z":"Zone 3","t":28.81,"v":27.25},{"c":2,"z":"Zone 3","t":29.08,"v":26.67},{"c":2,"z":"Zone 3","t":29.61,"v":25.09},{"c":2,"z":"Zone 3","t":30.28,"v":24.51},{"c":2,"z":"Zone 3","t":30.68,"v":25.04},{"c":2,"z":"Zone 3","t":31.22,"v":25.46},{"c":2,"z":"Zone 3","t":32.29,"v":25.88},{"c":2,"z":"Zone 3","t":33.76,"v":26.46},{"c":2,"z":"Zone 3","t":34.3,"v":26.09},{"c":2,"z":"Zone 3","t":34.97,"v":26.46},{"c":2,"z":"Zone 3","t":37.58,"v":27.15},{"c":2,"z":"Zone 3","t":38.04,"v":26.36},{"c":2,"z":"Zone 3","t":38.98,"v":27.04},{"c":2,"z":"Zone 3","t":41.12,"v":27.62},{"c":2,"z":"Zone 3","t":41.53,"v":27.09},{"c":2,"z":"Zone 3","t":42.45,"v":27.57},{"c":2,"z":"Zone 3","t":43.52,"v":27.83},{"c":2,"z":"Zone 3","t":43.72,"v":27.99},{"c":2,"z":"Zone 3","t":44.0,"v":27.72},{"c":2,"z":"Zone 3","t":44.33,"v":27.57},{"c":2,"z":"Zone 3","t":44.6,"v":26.62},{"c":2,"z":"Zone 3","t":44.86,"v":25.3},{"c":2,"z":"Zone 3","t":45.27,"v":24.94},{"c":2,"z":"Zone 3","t":45.67,"v":24.62},{"c":2,"z":"Zone 3","t":46.07,"v":25.57},{"c":2,"z":"Zone 3","t":46.47,"v":26.15},{"c":2,"z":"Zone 3","t":47.14,"v":26.47},{"c":2,"z":"Zone 3","t":48.49,"v":26.67},{"c":2,"z":"Zone 3","t":49.16,"v":26.88},{"c":2,"z":"Zone 3","t":49.69,"v":26.41},{"c":2,"z":"Zone 3","t":50.23,"v":26.72},{"c":2,"z":"Zone 3","t":51.43,"v":26.99},{"c":2,"z":"Zone 3","t":52.84,"v":27.52},{"c":2,"z":"Zone 3","t":53.18,"v":26.88},{"c":2,"z":"Zone 3","t":54.39,"v":27.36},{"c":2,"z":"Zone 3","t":55.19,"v":27.52},{"c":2,"z":"Zone 3","t":56.46,"v":27.78},{"c":2,"z":"Zone 3","t":56.93,"v":27.31},{"c":2,"z":"Zone 3","t":57.87,"v":27.73},{"c":2,"z":"Zone 3","t":60.02,"v":28.36},{"c":2,"z":"Zone 3","t":60.29,"v":27.94},{"c":2,"z":"Zone 3","t":60.55,"v":26.47},{"c":2,"z":"Zone 3","t":60.82,"v":25.68},{"c":2,"z":"Zone 3","t":61.5,"v":25.32},
{"c":2,"z":"Zone 4","t":1.5,"v":26.9},{"c":2,"z":"Zone 4","t":1.65,"v":27.57},{"c":2,"z":"Zone 4","t":2.05,"v":27.99},{"c":2,"z":"Zone 4","t":2.72,"v":27.99},{"c":2,"z":"Zone 4","t":3.46,"v":28.15},{"c":2,"z":"Zone 4","t":3.59,"v":27.62},{"c":2,"z":"Zone 4","t":3.72,"v":27.3},{"c":2,"z":"Zone 4","t":4.06,"v":27.51},{"c":2,"z":"Zone 4","t":5.4,"v":27.88},{"c":2,"z":"Zone 4","t":5.8,"v":27.93},{"c":2,"z":"Zone 4","t":6.0,"v":26.93},{"c":2,"z":"Zone 4","t":6.33,"v":25.88},{"c":2,"z":"Zone 4","t":6.73,"v":24.83},{"c":2,"z":"Zone 4","t":7.0,"v":24.04},{"c":2,"z":"Zone 4","t":7.67,"v":23.36},{"c":2,"z":"Zone 4","t":8.07,"v":24.3},{"c":2,"z":"Zone 4","t":8.74,"v":24.51},{"c":2,"z":"Zone 4","t":9.41,"v":24.62},{"c":2,"z":"Zone 4","t":10.75,"v":25.04},{"c":2,"z":"Zone 4","t":11.09,"v":25.15},{"c":2,"z":"Zone 4","t":11.35,"v":24.67},{"c":2,"z":"Zone 4","t":11.82,"v":24.93},{"c":2,"z":"Zone 4","t":12.76,"v":25.41},{"c":2,"z":"Zone 4","t":14.77,"v":25.99},{"c":2,"z":"Zone 4","t":15.03,"v":26.36},{"c":2,"z":"Zone 4","t":16.1,"v":26.51},{"c":2,"z":"Zone 4","t":16.98,"v":26.78},{"c":2,"z":"Zone 4","t":17.18,"v":26.3},{"c":2,"z":"Zone 4","t":17.44,"v":25.36},{"c":2,"z":"Zone 4","t":18.25,"v":24.3},{"c":2,"z":"Zone 4","t":18.85,"v":23.73},{"c":2,"z":"Zone 4","t":19.18,"v":24.3},{"c":2,"z":"Zone 4","t":19.45,"v":24.67},{"c":2,"z":"Zone 4","t":20.79,"v":25.15},{"c":2,"z":"Zone 4","t":21.46,"v":25.3},{"c":2,"z":"Zone 4","t":22.38,"v":25.62},{"c":2,"z":"Zone 4","t":22.78,"v":25.25},{"c":2,"z":"Zone 4","t":23.59,"v":25.62},{"c":2,"z":"Zone 4","t":24.93,"v":25.99},{"c":2,"z":"Zone 4","t":26.06,"v":26.3},{"c":2,"z":"Zone 4","t":26.27,"v":25.62},{"c":2,"z":"Zone 4","t":26.67,"v":25.67},{"c":2,"z":"Zone 4","t":27.6,"v":26.25},{"c":2,"z":"Zone 4","t":28.47,"v":26.51},{"c":2,"z":"Zone 4","t":28.67,"v":26.41},{"c":2,"z":"Zone 4","t":28.81,"v":25.62},{"c":2,"z":"Zone 4","t":29.08,"v":24.83},{"c":2,"z":"Zone 4","t":29.61,"v":24.41},{"c":2,"z":"Zone 4","t":30.15,"v":24.04},{"c":2,"z":"Zone 4","t":30.48,"v":23.88},{"c":2,"z":"Zone 4","t":30.82,"v":24.51},{"c":2,"z":"Zone 4","t":31.62,"v":24.78},{"c":2,"z":"Zone 4","t":32.96,"v":25.09},{"c":2,"z":"Zone 4","t":33.9,"v":25.36},{"c":2,"z":"Zone 4","t":34.3,"v":24.83},{"c":2,"z":"Zone 4","t":34.97,"v":25.41},{"c":2,"z":"Zone 4","t":36.3,"v":25.72},{"c":2,"z":"Zone 4","t":37.58,"v":26.04},{"c":2,"z":"Zone 4","t":37.91,"v":25.36},{"c":2,"z":"Zone 4","t":38.45,"v":25.99},{"c":2,"z":"Zone 4","t":39.65,"v":26.2},{"c":2,"z":"Zone 4","t":41.12,"v":26.57},{"c":2,"z":"Zone 4","t":41.39,"v":25.2},{"c":2,"z":"Zone 4","t":41.66,"v":25.99},{"c":2,"z":"Zone 4","t":42.45,"v":26.3},{"c":2,"z":"Zone 4","t":43.52,"v":26.57},{"c":2,"z":"Zone 4","t":43.66,"v":27.46},{"c":2,"z":"Zone 4","t":43.93,"v":27.51},{"c":2,"z":"Zone 4","t":44.19,"v":27.46},{"c":2,"z":"Zone 4","t":44.46,"v":26.72},{"c":2,"z":"Zone 4","t":44.73,"v":25.36},{"c":2,"z":"Zone 4","t":45.27,"v":24.62},{"c":2,"z":"Zone 4","t":45.74,"v":24.04},{"c":2,"z":"Zone 4","t":46.07,"v":24.83},{"c":2,"z":"Zone 4","t":46.47,"v":25.25},{"c":2,"z":"Zone 4","t":47.14,"v":25.51},{"c":2,"z":"Zone 4","t":48.08,"v":25.72},{"c":2,"z":"Zone 4","t":49.16,"v":25.99},{"c":2,"z":"Zone 4","t":49.62,"v":25.46},{"c":2,"z":"Zone 4","t":50.23,"v":25.93},{"c":2,"z":"Zone 4","t":51.43,"v":26.3},{"c":2,"z":"Zone 4","t":52.78,"v":26.62},{"c":2,"z":"Zone 4","t":53.25,"v":25.93},{"c":2,"z":"Zone 4","t":53.85,"v":26.41},{"c":2,"z":"Zone 4","t":55.19,"v":26.72},{"c":2,"z":"Zone 4","t":56.13,"v":26.99},{"c":2,"z":"Zone 4","t":56.26,"v":26.83},{"c":2,"z":"Zone 4","t":56.8,"v":26.51},{"c":2,"z":"Zone 4","t":57.87,"v":27.04},{"c":2,"z":"Zone 4","t":59.21,"v":27.41},{"c":2,"z":"Zone 4","t":60.02,"v":27.57},{"c":2,"z":"Zone 4","t":60.15,"v":26.83},{"c":2,"z":"Zone 4","t":60.55,"v":25.62},{"c":2,"z":"Zone 4","t":60.96,"v":25.09},{"c":2,"z":"Zone 4","t":61.5,"v":24.57},
{"c":2,"z":"Zone 5","t":1.5,"v":27.4},{"c":2,"z":"Zone 5","t":1.65,"v":27.88},{"c":2,"z":"Zone 5","t":2.05,"v":28.2},{"c":2,"z":"Zone 5","t":2.72,"v":28.15},{"c":2,"z":"Zone 5","t":3.46,"v":28.25},{"c":2,"z":"Zone 5","t":3.72,"v":27.3},{"c":2,"z":"Zone 5","t":4.06,"v":27.57},{"c":2,"z":"Zone 5","t":5.4,"v":28.09},{"c":2,"z":"Zone 5","t":5.8,"v":28.2},{"c":2,"z":"Zone 5","t":6.07,"v":27.72},{"c":2,"z":"Zone 5","t":6.47,"v":26.67},{"c":2,"z":"Zone 5","t":6.73,"v":25.78},{"c":2,"z":"Zone 5","t":7.14,"v":24.72},{"c":2,"z":"Zone 5","t":7.67,"v":24.2},{"c":2,"z":"Zone 5","t":8.07,"v":24.83},{"c":2,"z":"Zone 5","t":8.61,"v":25.25},{"c":2,"z":"Zone 5","t":9.41,"v":25.51},{"c":2,"z":"Zone 5","t":10.75,"v":25.99},{"c":2,"z":"Zone 5","t":11.22,"v":26.09},{"c":2,"z":"Zone 5","t":11.35,"v":25.46},{"c":2,"z":"Zone 5","t":11.69,"v":25.88},{"c":2,"z":"Zone 5","t":12.76,"v":26.2},{"c":2,"z":"Zone 5","t":14.5,"v":26.67},{"c":2,"z":"Zone 5","t":14.7,"v":26.51},{"c":2,"z":"Zone 5","t":15.44,"v":27.04},{"c":2,"z":"Zone 5","t":16.98,"v":27.36},{"c":2,"z":"Zone 5","t":17.18,"v":26.93},{"c":2,"z":"Zone 5","t":17.44,"v":25.62},{"c":2,"z":"Zone 5","t":18.11,"v":24.83},{"c":2,"z":"Zone 5","t":18.78,"v":24.3},{"c":2,"z":"Zone 5","t":19.18,"v":25.04},{"c":2,"z":"Zone 5","t":20.12,"v":25.57},{"c":2,"z":"Zone 5","t":21.46,"v":25.88},{"c":2,"z":"Zone 5","t":22.38,"v":26.15},{"c":2,"z":"Zone 5","t":22.65,"v":25.99},{"c":2,"z":"Zone 5","t":23.59,"v":26.3},{"c":2,"z":"Zone 5","t":26.0,"v":27.04},{"c":2,"z":"Zone 5","t":26.27,"v":26.83},{"c":2,"z":"Zone 5","t":26.67,"v":26.88},{"c":2,"z":"Zone 5","t":28.27,"v":27.3},{"c":2,"z":"Zone 5","t":28.81,"v":27.3},{"c":2,"z":"Zone 5","t":29.08,"v":26.83},{"c":2,"z":"Zone 5","t":29.34,"v":25.36},{"c":2,"z":"Zone 5","t":29.88,"v":24.57},{"c":2,"z":"Zone 5","t":30.41,"v":24.04},{"c":2,"z":"Zone 5","t":30.68,"v":24.83},{"c":2,"z":"Zone 5","t":31.22,"v":25.25},{"c":2,"z":"Zone 5","t":32.29,"v":25.57},{"c":2,"z":"Zone 5","t":33.9,"v":26.04},{"c":2,"z":"Zone 5","t":34.3,"v":25.72},{"c":2,"z":"Zone 5","t":34.97,"v":25.93},{"c":2,"z":"Zone 5","t":36.3,"v":26.46},{"c":2,"z":"Zone 5","t":37.64,"v":26.78},{"c":2,"z":"Zone 5","t":37.91,"v":26.3},{"c":2,"z":"Zone 5","t":38.98,"v":26.88},{"c":2,"z":"Zone 5","t":41.12,"v":27.3},{"c":2,"z":"Zone 5","t":41.39,"v":26.78},{"c":2,"z":"Zone 5","t":41.66,"v":26.93},{"c":2,"z":"Zone 5","t":42.45,"v":27.15},{"c":2,"z":"Zone 5","t":43.52,"v":27.41},{"c":2,"z":"Zone 5","t":43.72,"v":27.51},{"c":2,"z":"Zone 5","t":44.06,"v":27.46},{"c":2,"z":"Zone 5","t":44.46,"v":26.83},{"c":2,"z":"Zone 5","t":44.73,"v":25.57},{"c":2,"z":"Zone 5","t":45.27,"v":24.83},{"c":2,"z":"Zone 5","t":45.67,"v":24.3},{"c":2,"z":"Zone 5","t":46.07,"v":25.36},{"c":2,"z":"Zone 5","t":46.47,"v":25.62},{"c":2,"z":"Zone 5","t":47.14,"v":25.93},{"c":2,"z":"Zone 5","t":49.16,"v":26.41},{"c":2,"z":"Zone 5","t":49.56,"v":26.15},{"c":2,"z":"Zone 5","t":50.23,"v":26.41},{"c":2,"z":"Zone 5","t":52.78,"v":27.09},{"c":2,"z":"Zone 5","t":53.18,"v":26.78},{"c":2,"z":"Zone 5","t":54.39,"v":27.15},{"c":2,"z":"Zone 5","t":56.46,"v":27.72},{"c":2,"z":"Zone 5","t":56.93,"v":27.25},{"c":2,"z":"Zone 5","t":57.87,"v":27.57},{"c":2,"z":"Zone 5","t":60.02,"v":28.25},{"c":2,"z":"Zone 5","t":60.29,"v":27.46},{"c":2,"z":"Zone 5","t":60.55,"v":26.15},{"c":2,"z":"Zone 5","t":60.96,"v":25.36},{"c":2,"z":"Zone 5","t":61.5,"v":24.83},
{"c":2,"z":"Zone 6","t":1.5,"v":26.93},{"c":2,"z":"Zone 6","t":1.65,"v":27.72},{"c":2,"z":"Zone 6","t":2.05,"v":28.46},{"c":2,"z":"Zone 6","t":2.72,"v":28.51},{"c":2,"z":"Zone 6","t":3.39,"v":28.67},{"c":2,"z":"Zone 6","t":3.59,"v":28.62},{"c":2,"z":"Zone 6","t":3.72,"v":27.78},{"c":2,"z":"Zone 6","t":4.06,"v":28.09},{"c":2,"z":"Zone 6","t":4.59,"v":28.3},{"c":2,"z":"Zone 6","t":5.4,"v":28.41},{"c":2,"z":"Zone 6","t":5.66,"v":28.51},{"c":2,"z":"Zone 6","t":5.87,"v":28.41},{"c":2,"z":"Zone 6","t":6.07,"v":27.46},{"c":2,"z":"Zone 6","t":6.47,"v":26.41},{"c":2,"z":"Zone 6","t":6.73,"v":26.67},{"c":2,"z":"Zone 6","t":7.0,"v":26.67},{"c":2,"z":"Zone 6","t":7.27,"v":25.36},{"c":2,"z":"Zone 6","t":7.6,"v":24.67},{"c":2,"z":"Zone 6","t":7.94,"v":25.62},{"c":2,"z":"Zone 6","t":8.48,"v":26.2},{"c":2,"z":"Zone 6","t":9.01,"v":26.57},{"c":2,"z":"Zone 6","t":9.95,"v":26.93},{"c":2,"z":"Zone 6","t":10.75,"v":27.15},{"c":2,"z":"Zone 6","t":11.22,"v":27.2},{"c":2,"z":"Zone 6","t":11.55,"v":26.78},{"c":2,"z":"Zone 6","t":12.09,"v":27.04},{"c":2,"z":"Zone 6","t":13.43,"v":27.36},{"c":2,"z":"Zone 6","t":14.57,"v":27.67},{"c":2,"z":"Zone 6","t":14.77,"v":27.51},{"c":2,"z":"Zone 6","t":15.44,"v":27.3},{"c":2,"z":"Zone 6","t":16.1,"v":27.57},{"c":2,"z":"Zone 6","t":17.04,"v":27.83},{"c":2,"z":"Zone 6","t":17.31,"v":27.46},{"c":2,"z":"Zone 6","t":17.58,"v":25.88},{"c":2,"z":"Zone 6","t":17.98,"v":24.88},{"c":2,"z":"Zone 6","t":18.52,"v":24.72},{"c":2,"z":"Zone 6","t":18.78,"v":24.51},{"c":2,"z":"Zone 6","t":19.18,"v":25.46},{"c":2,"z":"Zone 6","t":19.59,"v":25.72},{"c":2,"z":"Zone 6","t":20.12,"v":25.93},{"c":2,"z":"Zone 6","t":21.46,"v":26.3},{"c":2,"z":"Zone 6","t":22.38,"v":26.67},{"c":2,"z":"Zone 6","t":22.78,"v":26.3},{"c":2,"z":"Zone 6","t":23.59,"v":26.57},{"c":2,"z":"Zone 6","t":24.93,"v":26.88},{"c":2,"z":"Zone 6","t":25.86,"v":27.15},{"c":2,"z":"Zone 6","t":26.06,"v":27.25},{"c":2,"z":"Zone 6","t":26.27,"v":26.36},{"c":2,"z":"Zone 6","t":26.67,"v":26.99},{"c":2,"z":"Zone 6","t":27.6,"v":27.15},{"c":2,"z":"Zone 6","t":28.54,"v":27.3},{"c":2,"z":"Zone 6","t":28.81,"v":27.25},{"c":2,"z":"Zone 6","t":29.08,"v":26.41},{"c":2,"z":"Zone 6","t":29.61,"v":25.09},{"c":2,"z":"Zone 6","t":30.15,"v":24.51},{"c":2,"z":"Zone 6","t":30.41,"v":24.2},{"c":2,"z":"Zone 6","t":30.68,"v":24.93},{"c":2,"z":"Zone 6","t":31.22,"v":25.57},{"c":2,"z":"Zone 6","t":32.29,"v":25.93},{"c":2,"z":"Zone 6","t":33.76,"v":26.46},{"c":2,"z":"Zone 6","t":34.3,"v":26.09},{"c":2,"z":"Zone 6","t":34.97,"v":26.46},{"c":2,"z":"Zone 6","t":36.3,"v":26.88},{"c":2,"z":"Zone 6","t":37.58,"v":27.2},{"c":2,"z":"Zone 6","t":38.04,"v":26.83},{"c":2,"z":"Zone 6","t":38.98,"v":27.25},{"c":2,"z":"Zone 6","t":41.12,"v":27.78},{"c":2,"z":"Zone 6","t":41.66,"v":27.41},{"c":2,"z":"Zone 6","t":42.45,"v":27.62},{"c":2,"z":"Zone 6","t":43.52,"v":27.88},{"c":2,"z":"Zone 6","t":43.72,"v":27.99},{"c":2,"z":"Zone 6","t":43.93,"v":27.72},{"c":2,"z":"Zone 6","t":44.26,"v":27.67},{"c":2,"z":"Zone 6","t":44.46,"v":27.15},{"c":2,"z":"Zone 6","t":44.73,"v":25.57},{"c":2,"z":"Zone 6","t":44.99,"v":25.15},{"c":2,"z":"Zone 6","t":45.4,"v":24.83},{"c":2,"z":"Zone 6","t":45.74,"v":24.51},{"c":2,"z":"Zone 6","t":46.07,"v":25.51},{"c":2,"z":"Zone 6","t":46.47,"v":25.99},{"c":2,"z":"Zone 6","t":47.14,"v":26.41},{"c":2,"z":"Zone 6","t":48.49,"v":26.67},{"c":2,"z":"Zone 6","t":49.16,"v":26.88},{"c":2,"z":"Zone 6","t":49.69,"v":26.46},{"c":2,"z":"Zone 6","t":50.23,"v":26.78},{"c":2,"z":"Zone 6","t":51.43,"v":27.04},{"c":2,"z":"Zone 6","t":52.78,"v":27.46},{"c":2,"z":"Zone 6","t":53.18,"v":27.04},{"c":2,"z":"Zone 6","t":54.39,"v":27.46},{"c":2,"z":"Zone 6","t":55.19,"v":27.67},{"c":2,"z":"Zone 6","t":56.46,"v":27.99},{"c":2,"z":"Zone 6","t":56.93,"v":27.36},{"c":2,"z":"Zone 6","t":57.87,"v":27.83},{"c":2,"z":"Zone 6","t":59.21,"v":28.09},{"c":2,"z":"Zone 6","t":60.02,"v":28.41},{"c":2,"z":"Zone 6","t":60.29,"v":27.88},{"c":2,"z":"Zone 6","t":60.55,"v":26.41},{"c":2,"z":"Zone 6","t":60.82,"v":25.62},{"c":2,"z":"Zone 6","t":61.5,"v":25.1}
]},
"vconcat": [
{
"width": 3040, "height": 695,
"title": {"text": "Case 1:", "anchor": "start", "frame": "group", "font": "Lato", "fontSize": 84, "fontWeight": "normal", "color": "black", "offset": -96, "baseline": "alphabetic"},
"data": {"name": "d"},
"transform": [{"filter": "datum.c == 1"}],
"mark": {"type": "line", "strokeWidth": 4, "clip": true},
"encoding": {
"x": {"field": "t", "type": "quantitative", "scale": {"domain": [1.5, 61.5], "nice": false, "zero": false}, "axis": null},
"y": {"field": "v", "type": "quantitative", "scale": {"domain": [22, 30], "nice": false, "zero": false},
"axis": {"values": [22, 24, 26, 28, 30], "title": "Air temperature (°C)", "titleFont": "Liberation Serif", "titleFontSize": 72, "titleFontWeight": "bold", "titleColor": "black", "titlePadding": 18, "labelFont": "Liberation Serif", "labelFontSize": 66, "labelColor": "#595959", "labelPadding": 74, "ticks": false, "domain": false, "gridColor": {"condition": {"test": "datum.value == 22 || datum.value == 30", "value": "transparent"}, "value": "#d9d9d9"}, "gridWidth": 3}},
"color": {"field": "z", "type": "nominal", "scale": {"domain": ["Zone 1", "Zone 2", "Zone 3", "Zone 4", "Zone 5", "Zone 6"], "range": ["#4472C4", "#70AD47", "#ED7D31", "#264478", "#43682B", "#9E480E"]},
"legend": {"orient": "none", "legendX": 842, "legendY": 567, "direction": "horizontal", "title": null, "symbolType": "stroke", "symbolSize": 13924, "symbolStrokeWidth": 4, "labelFont": "Liberation Serif", "labelFontSize": 70, "labelColor": "#595959", "labelOffset": 15, "columnPadding": 27, "labelLimit": 500}}
}
},
{
"width": 3040, "height": 695,
"title": {"text": "Case 2:", "anchor": "start", "frame": "group", "font": "Lato", "fontSize": 84, "fontWeight": "normal", "color": "black", "offset": -96, "baseline": "alphabetic"},
"data": {"name": "d"},
"transform": [{"filter": "datum.c == 2"}],
"mark": {"type": "line", "strokeWidth": 4, "clip": true},
"encoding": {
"x": {"field": "t", "type": "quantitative", "scale": {"domain": [1.5, 61.5], "nice": false, "zero": false},
"axis": {"values": [2.3, 10, 20, 30, 40, 50, 60], "labelExpr": "datum.value < 5 ? '18:00' : (datum.value >= 60 ? '19:00' : '18:' + datum.value)", "title": "Time (hh:mm)", "titleFont": "Liberation Serif", "titleFontSize": 72, "titleFontWeight": "bold", "titleColor": "black", "titlePadding": 23, "labelFont": "Liberation Serif", "labelFontSize": 66, "labelColor": "#595959", "labelPadding": 62, "labelFlush": false, "labelOverlap": false, "ticks": false, "domain": false, "grid": false}},
"y": {"field": "v", "type": "quantitative", "scale": {"domain": [22, 30], "nice": false, "zero": false},
"axis": {"values": [22, 24, 26, 28, 30], "title": "Air temperature (°C)", "titleFont": "Liberation Serif", "titleFontSize": 72, "titleFontWeight": "bold", "titleColor": "black", "titlePadding": 18, "labelFont": "Liberation Serif", "labelFontSize": 66, "labelColor": "#595959", "labelPadding": 74, "ticks": false, "domain": false, "gridColor": {"condition": {"test": "datum.value == 22 || datum.value == 30", "value": "transparent"}, "value": "#d9d9d9"}, "gridWidth": 3}},
"color": {"field": "z", "type": "nominal", "scale": {"domain": ["Zone 1", "Zone 2", "Zone 3", "Zone 4", "Zone 5", "Zone 6"], "range": ["#4472C4", "#70AD47", "#ED7D31", "#264478", "#43682B", "#9E480E"]},
"legend": {"orient": "none", "legendX": 842, "legendY": 567, "direction": "horizontal", "title": null, "symbolType": "stroke", "symbolSize": 13924, "symbolStrokeWidth": 4, "labelFont": "Liberation Serif", "labelFontSize": 70, "labelColor": "#595959", "labelOffset": 15, "columnPadding": 27, "labelLimit": 500}}
}
}
],
"spacing": 27,
"resolve": {"legend": {"color": "independent"}}
}
